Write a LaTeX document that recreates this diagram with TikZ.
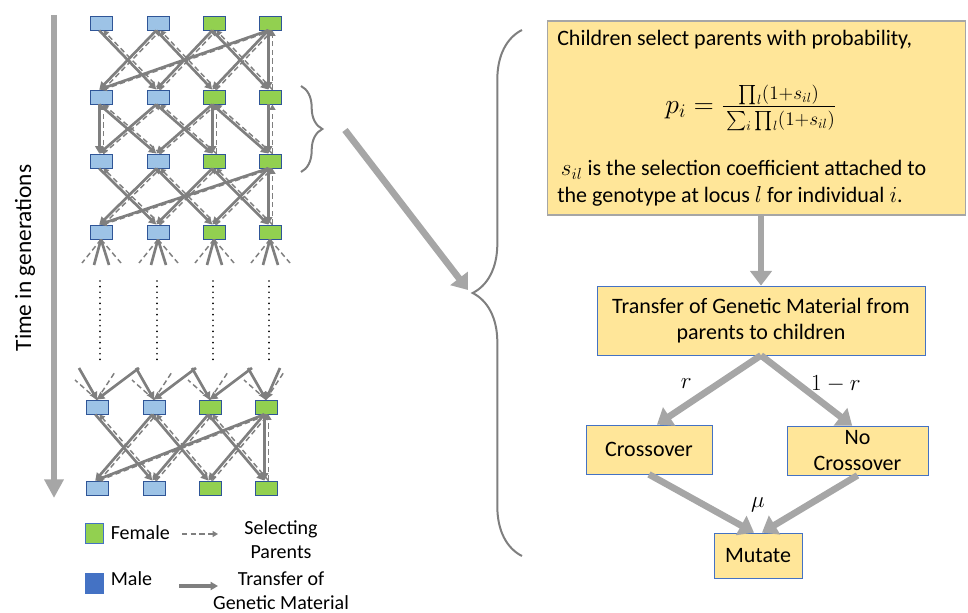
\documentclass[tikz,border=0pt]{standalone}
\usepackage{fontspec}
\setmainfont{Carlito}
\usepackage{amsmath}
\usepackage{xcolor}
\usepackage{tikz}
\usetikzlibrary{positioning, shapes, arrows, calc, decorations.pathreplacing, arrows.meta}

\definecolor{maleblue}{HTML}{9DC3E6}
\definecolor{malelegend}{HTML}{4472C4}
\definecolor{femgreen}{HTML}{92D050}
\definecolor{edgeblue}{HTML}{2F5597}
\definecolor{boxyellow}{HTML}{FFE699}
\definecolor{boxblue}{HTML}{4472C4}
\definecolor{netgray}{HTML}{7F7F7F}
\definecolor{flowgray}{HTML}{A6A6A6}

\tikzset{
  indiv/.style={draw=edgeblue, line width=0.7pt, minimum width=16.5pt, minimum height=10.5pt, inner sep=0pt},
  male/.style={indiv, fill=maleblue},
  female/.style={indiv, fill=femgreen},
  transfer/.style={draw=netgray, line width=2pt, -{Triangle[length=5.5pt,width=6pt]}},
  selecting/.style={draw=netgray, line width=1.1pt, dash pattern=on 4pt off 2.5pt, -{Triangle[length=4pt,width=4.5pt]}},
  gen dots/.style={draw=black, line width=1.4pt, dash pattern=on 0pt off 4.2pt, line cap=round},
  curly/.style={draw=netgray, line width=1.5pt, decorate},
  timeline/.style={draw=flowgray, line width=4pt, -{Triangle[length=14pt,width=14pt]}},
  flow/.style={draw=flowgray, line width=5pt, -{Triangle[length=11pt,width=16pt]}},
  fbox/.style={draw=boxblue, line width=0.6pt, fill=boxyellow, inner sep=2pt, align=center},
  selbox/.style={draw=flowgray, line width=0.8pt, fill=boxyellow, minimum width=314pt, minimum height=145.5pt},
  txt/.style={inner sep=0pt, anchor=base west},
  legend/.style={font=\fontsize{15}{18}\selectfont},
  mlbl/.style={font=\fontsize{18}{20}\selectfont},
}

\begin{document}
\begin{tikzpicture}[x=0.75pt, y=-0.75pt, font=\fontsize{16.5}{20}\selectfont]
\useasboundingbox (0,0) rectangle (968,613);

% time axis
\coordinate (ttop) at (54,15);
\coordinate (tbot) at (54,498);
\draw[timeline] (ttop) -- (tbot);
\node[rotate=90, font=\fontsize{17.5}{20}\selectfont] (tlabel) at (25,258) {Time in generations};

% individuals, one row per generation
\foreach \r/\y/\dx in {1/23/0,2/97/0,3/161/0,4/232/0,5/407/-4,6/488/-4}
  \foreach \c/\x/\s in {1/101/male,2/158/male,3/214/female,4/270/female}
    \node[\s] (n\r\c) at (\x+\dx,\y) {};

% parents -> children
\foreach \a/\b in {1/2,3/4,5/6}
  \foreach \p/\c in {1/2,2/1,2/3,3/2,3/4,4/1,4/3,4/4}{
    \draw[transfer] ([xshift=-1.3pt]n\a\p.south) -- ([xshift=-1.3pt]n\b\c.north);
    \draw[selecting] ([xshift=1.8pt]n\b\c.north) -- ([xshift=1.8pt]n\a\p.south);
  }
\foreach \p/\c in {1/1,1/2,2/1,2/3,3/2,3/3,3/4,4/4}{
  \draw[transfer] ([xshift=-1.3pt]n2\p.south) -- ([xshift=-1.3pt]n3\c.north);
  \draw[selecting] ([xshift=1.8pt]n3\c.north) -- ([xshift=1.8pt]n2\p.south);
}

% cut-off links around the skipped generations
\foreach \c/\x in {1/101,2/158,3/214,4/270}{
  \coordinate (lo\c-a) at (\x-19,263);
  \coordinate (lo\c-b) at (\x-7,265);
  \coordinate (lo\c-c) at (\x+8,265);
  \coordinate (lo\c-d) at (\x+20,263);
  \draw[selecting, -] (n4\c.south) -- (lo\c-a);
  \draw[transfer, -] (n4\c.south) -- (lo\c-b);
  \draw[transfer, -] (n4\c.south) -- (lo\c-c);
  \draw[selecting, -] (n4\c.south) -- (lo\c-d);
  \draw[gen dots] (\x-1,281) -- (\x-1,364);
}
\foreach \c/\x/\dd in {1/97/42,2/154/42,3/210/42,4/266/14}{
  \coordinate (up\c-a) at (\x-18,368);
  \coordinate (up\c-b) at (\x-22,380);
  \coordinate (up\c-c) at (\x+18,372);
  \coordinate (up\c-d) at (\x+\dd,368);
  \draw[transfer] (up\c-a) -- (n5\c.north);
  \draw[selecting, -] (n5\c.north) -- (up\c-b);
  \draw[selecting, -] (n5\c.north) -- (up\c-c);
  \draw[transfer] (up\c-d) -- (n5\c.north);
}

% legend
\node[indiv, fill=femgreen, draw=boxblue, minimum width=13.5pt, minimum height=15pt] (lgfemale) at (94,533) {};
\node[legend, right=2pt of lgfemale] (lgftext) {Female};
\node[indiv, fill=malelegend, draw=malelegend, minimum width=13.5pt, minimum height=15pt] (lgmale) at (94,583) {};
\node[legend, right=2pt of lgmale, yshift=3pt] (lgmtext) {Male};
\coordinate (lgsel-a) at (182,534);
\coordinate (lgsel-b) at (218,534);
\draw[selecting] (lgsel-a) -- (lgsel-b);
\coordinate (lgtr-a) at (179,586);
\coordinate (lgtr-b) at (218,586);
\draw[transfer, line width=3pt] (lgtr-a) -- (lgtr-b);
\node[legend, align=center] (lgseltext) at (281,540) {Selecting\\Parents};
\node[legend, align=center] (lgtrtext) at (281,591) {Transfer of\\Genetic Material};

% braces
\draw[curly, decoration={brace, amplitude=16pt}] (301,86) -- (301,172);
\draw[curly, decoration={brace, amplitude=37pt}] (522,556) -- (522,30);
\coordinate (sbrace) at (345,130);
\coordinate (bbrace) at (468,290);
\draw[flow] (sbrace) -- (bbrace);

% selection box
\node[selbox] (select) at (756.5,118) {};
\node[txt] (seltxt1) at (557,46) {Children select parents with probability,};
\node[font=\fontsize{20}{24}\selectfont] (formula) at (751,108)
  {$p_i = \frac{\prod_l(1+s_{il})\rule[-2pt]{0pt}{2pt}}{\rule{0pt}{13pt}\sum_i\prod_l(1+s_{il})}$};
\node[txt] (seltxt2) at (557,176) {\,$s_{il}$ is the selection coefficient attached to};
\node[txt] (seltxt3) at (557,203) {the genotype at locus $l$ for individual $i$.};

% transfer of genetic material
\node[fbox, minimum width=246pt, minimum height=51.75pt] (transfer) at (761,320.5)
  {Transfer of Genetic Material from\\parents to children};
\node[fbox, minimum width=94.5pt, minimum height=36.75pt] (cross) at (649,449.5) {Crossover};
\node[fbox, minimum width=105.75pt, minimum height=36.75pt, font=\fontsize{16.5}{19}\selectfont] (nocross) at (857.5,450.5) {No\\Crossover};
\node[fbox, minimum width=66pt, minimum height=33.75pt] (mutate) at (758,555.5) {Mutate};
\node[mlbl, above=12pt of mutate] (mu) {$\mu$};

\draw[flow] (transfer.north |- select.south) -- (transfer.north);
\draw[flow] (transfer.south) -- node[mlbl, midway, xshift=-17pt, yshift=5pt] (rlbl) {$r$} ([xshift=6pt]cross.north);
\draw[flow] (transfer.south) -- node[mlbl, midway, xshift=22pt, yshift=5pt] (nrlbl) {$1-r$} ([xshift=-4pt]nocross.north);
\draw[flow] (cross.south) -- ([xshift=-3pt]mutate.north);
\draw[flow] (nocross.south) -- ([xshift=3pt]mutate.north);
\end{tikzpicture}
\end{document}
